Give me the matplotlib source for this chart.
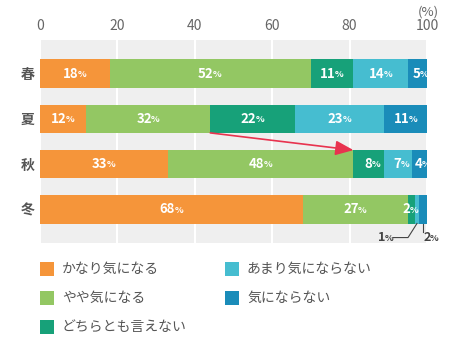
import numpy as np
import matplotlib
matplotlib.use("Agg")
import matplotlib.pyplot as plt
from matplotlib.patches import Rectangle, FancyArrowPatch

plt.rcParams['font.family'] = ['Noto Sans CJK JP', 'DejaVu Sans']

#seasons and answer categories
seasons = ['春', '夏', '秋', '冬']
answers = ['かなり気になる', 'やや気になる', 'どちらとも言えない', 'あまり気にならない', '気にならない']
colors = ['#F5953A', '#93C763', '#17A179', '#46BDD0', '#1A8CB9']

#percentages per season, in answer order
v_kanari = [18, 12, 33, 68]
v_yaya = [52, 32, 48, 27]
v_dochira = [11, 22, 8, 2]
v_amari = [14, 23, 7, 1]
v_nai = [5, 11, 4, 2]
values = np.array([v_kanari, v_yaya, v_dochira, v_amari, v_nai])

xticks = [0, 20, 40, 60, 80, 100]

W, H = 450, 352
fig = plt.figure(figsize=(W/100, H/100), dpi=100)
ax = fig.add_axes([40/W, 1-243/H, 387/W, 203/H])
ax.set_facecolor('#efefef')

def pct_label(x0, y0, v, col, size):
    ax.annotate(str(v), (x0, y0), xytext=(2.5, 0), textcoords='offset points',
                ha='right', va='center', color=col, fontsize=size, fontweight='bold', zorder=5)
    ax.annotate('%', (x0, y0), xytext=(2.0, -0.5), textcoords='offset points',
                ha='left', va='center', color=col, fontsize=6.5, fontweight='bold', zorder=5)

y = np.arange(len(seasons))
left = np.zeros(len(seasons))
for i in range(len(answers)):
    ax.barh(y, values[i], left=left, height=0.62, color=colors[i], zorder=3)
    for j in range(len(seasons)):
        v = values[i][j]
        cx = left[j] + v/2
        if j == 3 and i >= 3:
            continue
        if j == 3 and i == 2:
            cx = 94.7
        pct_label(cx, y[j], v, 'white', 9.5)
    left += values[i]

#small winter labels below the bar
pct_label(88.4, 3.62, 1, '#444444', 9)
pct_label(100.0, 3.62, 2, '#444444', 9)
ax.plot([91.2, 95.1, 97.4], [3.62, 3.62, 3.31], color='#444444', lw=0.8, zorder=5, clip_on=False)
ax.plot([99.0, 99.0], [3.31, 3.5], color='#444444', lw=0.8, zorder=5, clip_on=False)

#arrow from summer to autumn
arr = FancyArrowPatch((44, 1.31), (81, 1.69), arrowstyle='-|>,head_length=11,head_width=4.5',
                      color='#E8334F', lw=1.2, zorder=6, shrinkA=0, shrinkB=0)
ax.add_patch(arr)

ax.set_xlim(0, 100)
ax.set_ylim(3.74, -0.74)
ax.set_xticks(xticks)
ax.xaxis.tick_top()
ax.tick_params(axis='x', length=0, pad=5, labelsize=10, labelcolor='#666666')
ax.set_yticks(y)
ax.set_yticklabels(seasons)
ax.tick_params(axis='y', length=0, pad=4, labelsize=10, labelcolor='#555555')
for t in ax.get_yticklabels():
    t.set_fontweight('bold')
ax.grid(axis='x', color='white', lw=1.5, zorder=1)
ax.set_axisbelow(True)
for s in ax.spines.values():
    s.set_visible(False)

fig.text(428/W, 1-12/H, '(%)', ha='center', va='center', fontsize=9.5, color='#666666')

#legend drawn by hand, two columns
pos = [(40, 262), (40, 291), (40, 320), (225, 262), (225, 291)]
for i, (px, py) in enumerate(pos):
    fig.add_artist(Rectangle((px/W, 1-(py+14)/H), 14/W, 14/H, transform=fig.transFigure,
                             facecolor=colors[i], edgecolor='none'))
    fig.text((px+22)/W, 1-(py+7)/H, answers[i], ha='left', va='center', fontsize=10, color='#555555')

fig.savefig('out.png', dpi=100)
